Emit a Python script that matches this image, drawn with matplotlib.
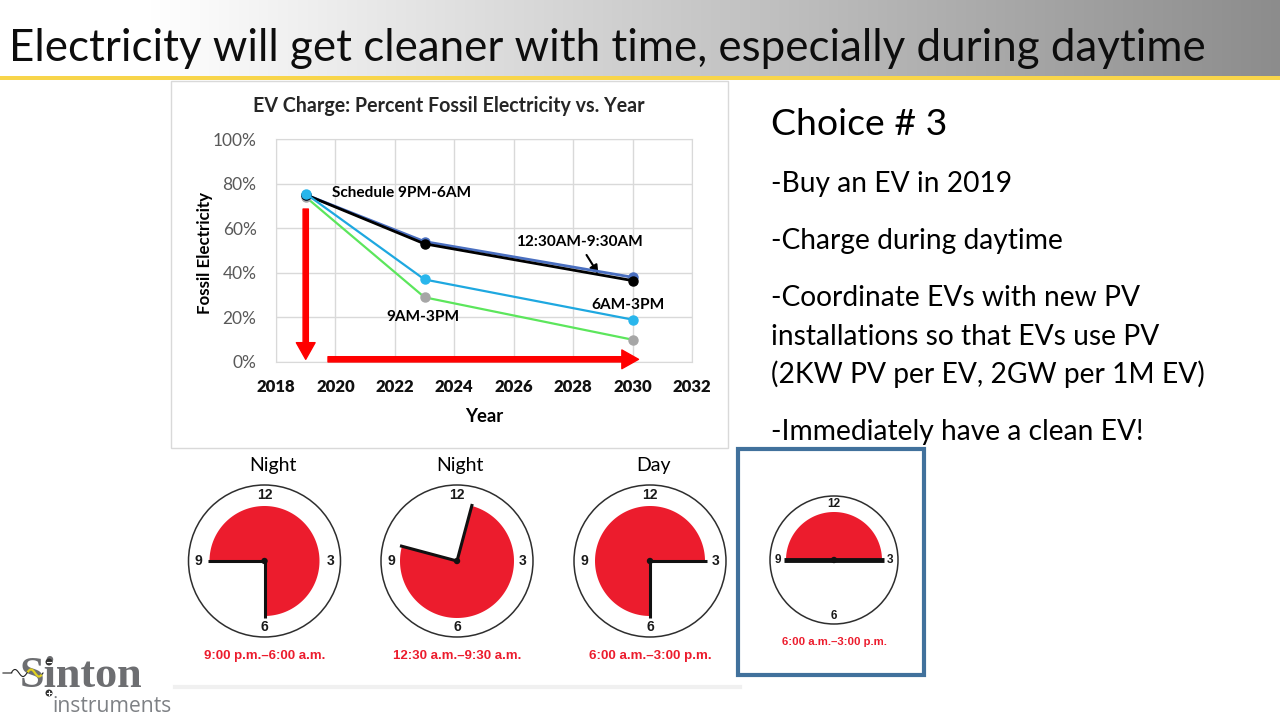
import numpy as np
import matplotlib
matplotlib.use('Agg')
import matplotlib.pyplot as plt
from matplotlib.patches import Rectangle, Polygon, Circle

# ---- chart data ----
years = [2019, 2023, 2030]
sched_9pm = [0.75, 0.53, 0.365]
sched_1230 = [0.75, 0.54, 0.38]
sched_6am = [0.755, 0.37, 0.19]
sched_9am = [0.74, 0.29, 0.10]
series_names = ['Schedule 9PM-6AM', '12:30AM-9:30AM', '6AM-3PM', '9AM-3PM']

xticks = [2018, 2020, 2022, 2024, 2026, 2028, 2030, 2032]
yticks = [0, 0.2, 0.4, 0.6, 0.8, 1.0]

# ---- clocks ----
clock_titles = ['Night', 'Night', 'Day', '']
clock_start = [21, 0.5, 6, 9]
clock_end = [6, 9.5, 15, 15]
clock_labels = ['9:00 p.m.\u20136:00 a.m.', '12:30 a.m.\u20139:30 a.m.',
                '6:00 a.m.\u20133:00 p.m.', '6:00 a.m.\u20133:00 p.m.']

slide_title = 'Electricity will get cleaner with time, especially during daytime'
choice_title = 'Choice # 3'
choice_lines = ['-Buy an EV in 2019', '-Charge during daytime',
                '-Coordinate EVs with new PV', 'installations so that EVs use PV',
                '(2KW PV per EV, 2GW per 1M EV)', '-Immediately have a clean EV!']

RED = '#EC1C2D'
FONT = 'Lato'

fig = plt.figure(figsize=(12.8, 7.2), dpi=100)
fig.patch.set_facecolor('white')

# background axes in pixel units (y down)
bg = fig.add_axes([0, 0, 1, 1], zorder=0)
bg.set_xlim(0, 1280)
bg.set_ylim(720, 0)
bg.axis('off')

renderer = fig.canvas.get_renderer()


def fit(t, width, vertical=False):
    bb = t.get_window_extent(renderer)
    w = bb.height if vertical else bb.width
    t.set_fontsize(t.get_fontsize() * width / w)
    return t


# title bar gradient
xs = np.arange(1280)
ramp = np.clip(255 - 115 * (xs - 150) / 1130, 140, 255)
grey = np.repeat(ramp[None, :], 76, axis=0)
img = np.dstack([grey, grey, grey]) / 255
bg.imshow(img, extent=(0, 1280, 76, 0), aspect='auto', zorder=0)
bg.set_xlim(0, 1280)
bg.set_ylim(720, 0)
bg.add_patch(Rectangle((0, 76), 1280, 3.5, fc='#F8D54A', ec='none', zorder=1))
fit(bg.text(9, 61, slide_title, fontsize=33, family=['Liberation Sans Narrow', FONT],
            va='baseline', color='#0d0d0d', zorder=2), 1196)

# chart frame
bg.add_patch(Rectangle((170.5, 80.5), 557, 367, fc='white', ec='#D9D9D9', lw=1, zorder=1))
fit(bg.text(449, 106, 'EV Charge: Percent Fossil Electricity vs. Year', fontsize=12,
            family=FONT, weight='bold', ha='center', va='center', color='#262626', zorder=2), 390)

# ---- line chart ----
ax = fig.add_axes([276 / 1280, 1 - 362 / 720, 416 / 1280, 223 / 720], zorder=2)
ax.set_facecolor('none')
ax.set_xlim(2018, 2032)
ax.set_ylim(0, 1)
ax.tick_params(length=0)
ax.tick_params(axis='y', pad=14)
ax.tick_params(axis='x', pad=12)
ax.set_xticks(xticks)
ax.set_xticklabels([str(v) for v in xticks])
ax.set_yticks(yticks)
ax.set_yticklabels(['{:.0f}%'.format(v * 100) for v in yticks])
for lab in ax.get_xticklabels():
    lab.set_fontproperties({'family': FONT, 'weight': 'heavy', 'size': 12})
    lab.set_color('#111111')
for lab in ax.get_yticklabels():
    lab.set_fontproperties({'family': FONT, 'weight': 'normal', 'size': 12.5})
    lab.set_color('#595959')
ax.grid(True, color='#D9D9D9', lw=1)
ax.set_axisbelow(True)
for s in ax.spines.values():
    s.set_color('#D9D9D9')

ax.plot(years, sched_9am, color='#5CE65C', lw=1.6, marker='o', ms=6.5,
        mfc='#A6A6A6', mec='#A6A6A6', zorder=3)
ax.plot(years, sched_1230, color='#4A6FC0', lw=2, marker='o', ms=6.5,
        mfc='#4A6FC0', mec='#4A6FC0', zorder=4)
ax.plot(years, sched_9pm, color='black', lw=2, marker='o', ms=6.5,
        mfc='black', mec='black', zorder=5)
ax.plot(years, sched_6am, color='#1EA8E0', lw=1.6, marker='o', ms=6.5,
        mfc='#29B6EC', mec='#29B6EC', zorder=6)

t0 = fit(ax.text(2019.9, 0.758, series_names[0], family=FONT, weight='bold', fontsize=11,
                 va='center', ha='left', color='black'), 139)
fs = t0.get_fontsize()
ax.text(2026.07, 0.537, series_names[1], family=FONT, weight='bold', fontsize=fs,
        va='center', ha='left', color='black')
ax.text(2028.6, 0.255, series_names[2], family=FONT, weight='bold', fontsize=fs,
        va='center', ha='left', color='black')
ax.text(2021.7, 0.20, series_names[3], family=FONT, weight='bold', fontsize=fs,
        va='center', ha='left', color='black')
ax.annotate('', xy=(2028.85, 0.395), xytext=(2028.45, 0.48),
            arrowprops=dict(arrowstyle='-|>,head_length=0.5,head_width=0.25',
                            color='black', lw=1.5, shrinkA=0, shrinkB=0))

# big red arrows
red_arrow = dict(arrowstyle='simple,head_length=1.2,head_width=1.35,tail_width=0.38',
                 color='#FF0000', shrinkA=0, shrinkB=0, mutation_scale=10)
ax.annotate('', xy=(2019.0, 0.012), xytext=(2019.0, 0.686), arrowprops=red_arrow,
            annotation_clip=False)
ax.annotate('', xy=(2030.2, 0.012), xytext=(2019.75, 0.012), arrowprops=red_arrow,
            annotation_clip=False)

ax.set_ylabel('Fossil Electricity', family=FONT, weight='bold', color='black', fontsize=11)
ax.yaxis.set_label_coords(-0.152, 0.49)
fit(ax.yaxis.label, 122, vertical=True)
ax.set_xlabel('Year', family=FONT, weight='bold', color='black', fontsize=13)
ax.xaxis.set_label_coords(0.5, -0.205)
fit(ax.xaxis.label, 38)


# ---- clocks ----
def hour_xy(cx, cy, r, h):
    a = np.deg2rad(90 - 30 * h)
    return cx + r * np.cos(a), cy - r * np.sin(a)


def draw_clock(i, cx, cy, r, rr, nr, nsize, hand_lw, lab_w, lab_y):
    s = clock_start[i] % 12
    e = clock_end[i] % 12
    if e <= s:
        e += 12
    hh = np.linspace(s, e, 120)
    pts = [(cx, cy)] + [hour_xy(cx, cy, rr, h) for h in hh]
    bg.add_patch(Polygon(pts, closed=True, fc=RED, ec='none', zorder=2))
    bg.add_patch(Circle((cx, cy), r, fc='none', ec='#2E2E2E', lw=1.1, zorder=3))
    for h in (s, e):
        x1, y1 = hour_xy(cx, cy, rr + 2, h)
        bg.plot([cx, x1], [cy, y1], color='#111111', lw=hand_lw,
                solid_capstyle='butt', zorder=4)
    bg.add_patch(Circle((cx, cy), 3.2, fc='#111111', ec='none', zorder=5))
    for n in (12, 3, 6, 9):
        x, y = hour_xy(cx, cy, nr, n)
        bg.text(x, y, str(n), ha='center', va='center', fontsize=nsize,
                family='Liberation Sans', weight='bold', color='#1a1a1a', zorder=5)
    fit(bg.text(cx, lab_y, clock_labels[i], ha='center', va='center', fontsize=9,
                family='Liberation Sans', weight='bold', color=RED, zorder=5), lab_w)
    if clock_titles[i]:
        bg.text(cx + 8 if i == 0 else cx + 3, 466, clock_titles[i], ha='center',
                va='center', fontsize=14, family=FONT, color='black', zorder=5)


draw_clock(0, 264.5, 561, 76, 55, 66, 10, 2.2, 122, 656)
draw_clock(1, 457, 561, 76, 57, 66, 10, 2.2, 129, 656)
draw_clock(2, 650, 561, 76, 55, 66, 10, 2.2, 123, 656)
draw_clock(3, 834, 560, 64, 48, 56, 8.5, 3.5, 105, 642)
bg.plot([175, 740], [687, 687], color='#F0F0F0', lw=3, zorder=1)

# blue highlight box
bg.add_patch(Rectangle((738, 449), 186, 226, fc='none', ec='#41719C', lw=3, zorder=6))

# ---- right side text ----
fit(bg.text(771, 135, choice_title, fontsize=30, family=FONT, va='baseline',
            color='black'), 176)
lt = bg.text(771, 383, choice_lines[4], fontsize=20, family=FONT, va='baseline', color='black')
fit(lt, 432)
bfs = lt.get_fontsize()
for txt, yb in zip([choice_lines[0], choice_lines[1], choice_lines[2], choice_lines[3],
                    choice_lines[5]], [192, 249, 306, 345, 440]):
    bg.text(771, yb, txt, fontsize=bfs, family=FONT, va='baseline', color='black')

# ---- logo ----
fit(bg.text(20, 687, 'Sinton', fontsize=28, family='Liberation Serif', weight='bold',
            va='baseline', color='#6D6E71'), 123)
fit(bg.text(52, 712, 'instruments', fontsize=16, family='Open Sans', va='baseline',
            color='#7E8185'), 120)
sx = np.linspace(3, 43, 120)
sy = 673 + 3.5 * np.sin((sx - 3) / 40 * 5 * np.pi) * (sx > 12)
bg.plot(sx, sy, color='#222222', lw=0.8, zorder=3)
seg = (sx > 28) & (sx < 41)
bg.plot(sx[seg], sy[seg], color='#E0D020', lw=1.6, zorder=4)
bg.add_patch(Circle((49, 662), 3.5, fc='#333333', ec='none', zorder=4))
bg.add_patch(Circle((49, 693), 3.5, fc='#333333', ec='none', zorder=4))
bg.plot([47, 51], [662, 662], color='white', lw=0.8, zorder=5)
bg.plot([47, 51], [693, 693], color='white', lw=0.8, zorder=5)
bg.plot([49, 49], [691, 695], color='white', lw=0.8, zorder=5)

fig.savefig('out.png', dpi=100)
